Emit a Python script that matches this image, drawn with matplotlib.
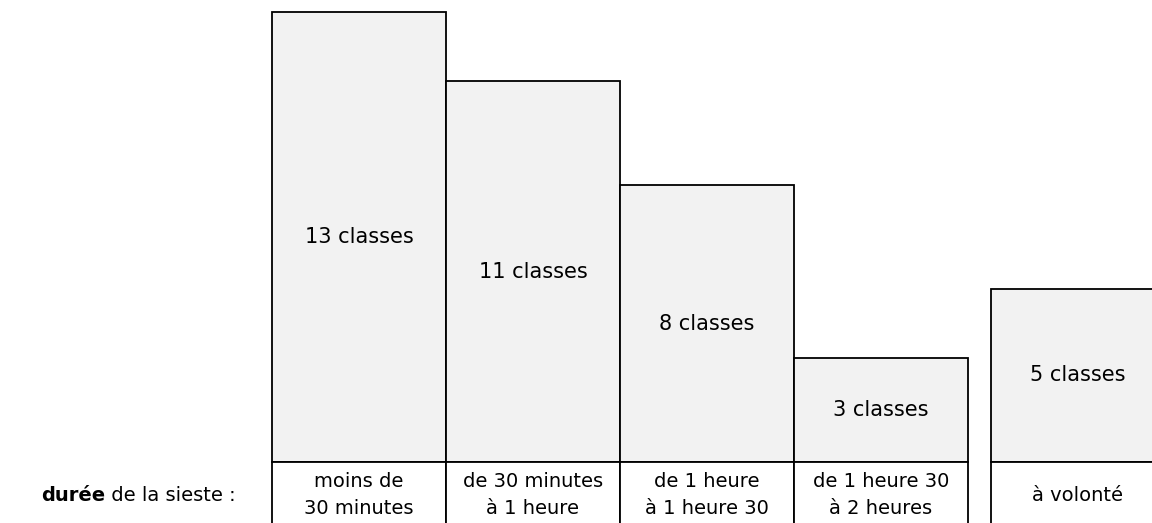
import numpy as np
import matplotlib.pyplot as plt

# durée de la sieste -> nombre de classes
durees = ["moins de\n30 minutes", "de 30 minutes\nà 1 heure", "de 1 heure\nà 1 heure 30",
          "de 1 heure 30\nà 2 heures", "à volonté"]
classes = [13, 11, 8, 3, 5]

plt.rcParams['font.family'] = ['DejaVu Sans']

fig = plt.figure(figsize=(11.52, 5.23), dpi=100)
# axes placed in pixels: base line at y=462, one bar = 174 px wide
ax = fig.add_axes([272 / 1152, 61 / 523, 880 / 1152, 450 / 523])
ax.set_xlim(0, 880 / 174)
ax.set_ylim(0, 13)
ax.axis('off')

left = np.array([0, 1, 2, 3, 4.13])

# the bars
ax.bar(left, classes, width=1, align='edge', color='#f2f2f2',
       edgecolor='black', linewidth=1.3, clip_on=False)
for x, n in zip(left, classes):
    ax.text(x + 0.5, n / 2, f"{n} classes", ha='center', va='center', fontsize=15)

# the label row under the bars
row_h = 2.2
ax.bar(left, -row_h, width=1, align='edge', color='white',
       edgecolor='black', linewidth=1.3, clip_on=False)
for x, lab in zip(left, durees):
    ax.text(x + 0.5, -0.96, lab, ha='center', va='center', fontsize=14,
            linespacing=1.5)

t = ax.text(-0.21, -0.96, " de la sieste :", ha='right', va='center', fontsize=14)
ax.annotate("durée", xy=(0, 0.5), xycoords=t, ha='right', va='center',
            fontsize=14, fontweight='bold')

fig.savefig('out.png', dpi=100)
